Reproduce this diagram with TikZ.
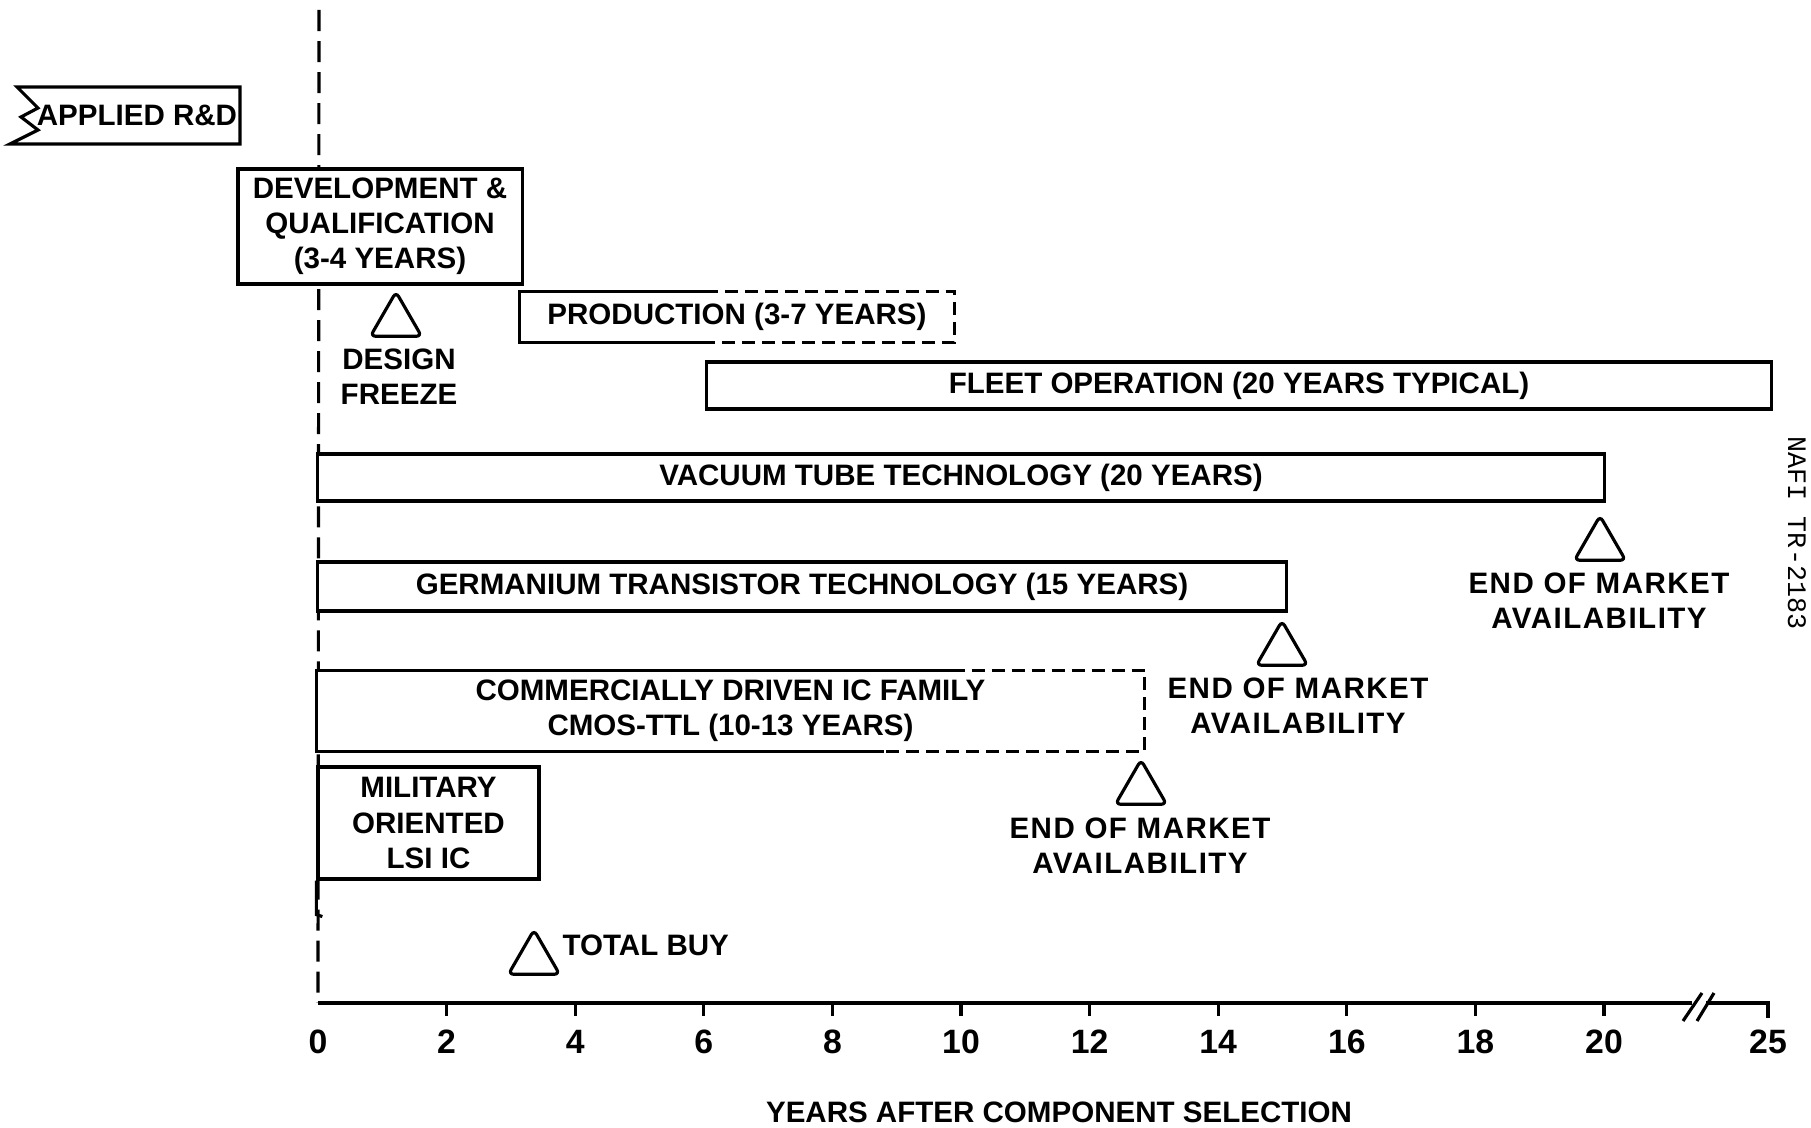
\documentclass[tikz,border=0pt]{standalone}
\usepackage{fontspec}
\setmainfont{Liberation Sans}
\newfontfamily\spacedfont{Liberation Sans}[BoldFeatures={LetterSpace=5}]
\newfontfamily\docfont{Liberation Mono}
\usetikzlibrary{shapes.geometric}

\begin{document}
\begin{tikzpicture}[
  x=0.01cm,
  y=-0.01cm,
  font=\fontsize{8.4}{10}\selectfont\bfseries,
  line width=0.9pt,
  bar/.style={inner sep=0pt, align=center},
  barbox/.style={bar, draw, fill=white},
  tri/.style={draw, fill=white, regular polygon, regular polygon sides=3, minimum size=0.59cm, inner sep=0pt, rounded corners=1.5pt},
  lab/.style={align=center, inner sep=0pt},
  eoma/.style={lab, font=\spacedfont\fontsize{8.4}{10}\selectfont\bfseries},
  vdash/.style={dash pattern=on 2.1mm off 1mm},
  bdash/.style={dash pattern=on 1.3mm off 0.7mm},
  yrlab/.style={inner sep=0pt, font=\fontsize{9.6}{11}\selectfont\bfseries}
]
  \useasboundingbox (0,0) rectangle (1811,1128);

  \coordinate (top) at (319,10);
  \coordinate (o) at (318,1003);
  \draw[vdash] (top) -- (o);

  \draw[fill=white] (240,87) -- (17,87) -- (38,108) -- (21,117) -- (38,130) -- (10,144) -- (240,144) -- cycle;
  \node (rnd) at (137,115) {APPLIED R\&D};

  \node[barbox, minimum width=2.84cm, minimum height=1.15cm] (dev) at (380,226.5) {DEVELOPMENT \&\\QUALIFICATION\\(3-4 YEARS)};
  \node[tri] (freeze) at (396,321.5) {};
  \node[lab] (freezelab) at (399,377) {DESIGN\\FREEZE};

  \node[bar, fill=white, minimum width=4.32cm, minimum height=0.48cm] (prod) at (737,317) {PRODUCTION (3-7 YEARS)};
  \draw ([xshift=1.86cm]prod.north west) -- (prod.north west) -- (prod.south west) -- ([xshift=1.92cm]prod.south west);
  \draw[bdash] ([xshift=1.86cm]prod.north west) -- (prod.north east) -- (prod.south east) -- ([xshift=1.92cm]prod.south west);

  \node[barbox, minimum width=10.64cm, minimum height=0.47cm] (fleet) at (1239,385.5) {FLEET OPERATION (20 YEARS TYPICAL)};

  \node[barbox, minimum width=12.86cm, minimum height=0.47cm] (vac) at (961,477.5) {VACUUM TUBE TECHNOLOGY (20 YEARS)};
  \node[tri] (vend) at (1600,545.5) {};
  \node[eoma] (vendlab) at (1599,601) {END OF MARKET\\AVAILABILITY};

  \node[barbox, minimum width=9.68cm, minimum height=0.49cm] (germ) at (802,586.5) {GERMANIUM TRANSISTOR TECHNOLOGY (15 YEARS)};
  \node[tri] (gend) at (1282,650.5) {};
  \node[eoma] (gendlab) at (1298,706) {END OF MARKET\\AVAILABILITY};

  \node[bar, fill=white, minimum width=8.25cm, minimum height=0.78cm] (cmos) at (730.5,711) {COMMERCIALLY DRIVEN IC FAMILY\\CMOS-TTL (10-13 YEARS)};
  \draw ([xshift=6.35cm]cmos.north west) -- (cmos.north west) -- (cmos.south west) -- ([xshift=5.67cm]cmos.south west);
  \draw[bdash] ([xshift=6.35cm]cmos.north west) -- (cmos.north east) -- (cmos.south east) -- ([xshift=5.67cm]cmos.south west);
  \node[tri] (cend) at (1141,789.5) {};
  \node[eoma] (cendlab) at (1140,846) {END OF MARKET\\AVAILABILITY};

  \node[barbox, minimum width=2.21cm, minimum height=1.12cm] (mil) at (428.5,823) {MILITARY\\ORIENTED\\LSI IC};
  \draw (mil.south west) -- ++(0,34) -- ++(6,2);
  \node[tri] (buy) at (534,959.5) {};
  \node[anchor=west, inner sep=0pt] (buylab) at (561,945) {TOTAL BUY};

  \coordinate (brka) at (1692,1003);
  \coordinate (brkb) at (1706,1003);
  \coordinate (end) at (1768,1003);
  \draw (o) -- (brka);
  \draw (brkb) -- (end) -- ++(0,15);
  \draw (1683,1021) -- (1702,993);
  \draw (1697,1021) -- (1714,993);
  \foreach \yr in {2,4,...,20}
    \draw (318+64.3*\yr,1003) -- ++(0,13);
  \foreach \yr in {0,2,...,20}
    \node[yrlab] (t\yr) at (318+64.3*\yr,1042) {\yr};
  \node[yrlab] (t25) at (1768,1042) {25};

  \node (xlab) at (1059,1112) {YEARS AFTER COMPONENT SELECTION};
  \node[rotate=-90, inner sep=0pt, font=\docfont\fontsize{7.6}{9}\selectfont] (docno) at (1797,533) {NAFI TR-2183};
\end{tikzpicture}
\end{document}
